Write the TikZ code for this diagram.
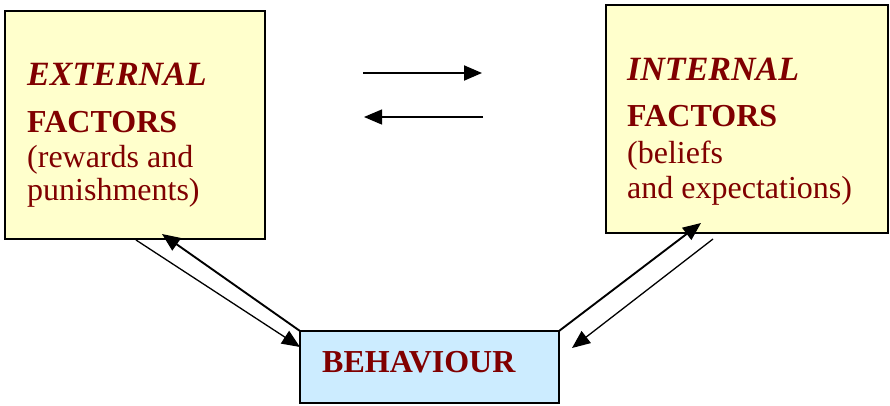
\documentclass[tikz,border=0pt]{standalone}
\usepackage{fontspec}
\setmainfont{Liberation Serif}
\usetikzlibrary{arrows.meta}
\definecolor{txtred}{HTML}{800000}
\definecolor{boxyellow}{HTML}{FFFFCC}
\definecolor{boxblue}{HTML}{CCECFF}
\tikzset{
  factorbox/.style={draw=black, line width=1.4pt, fill=boxyellow},
  behbox/.style={draw=black, line width=1.4pt, fill=boxblue},
  txt/.style={anchor=base west, inner sep=0pt, text=txtred, font=\fontsize{32}{38}\selectfont},
  bigtxt/.style={txt, font=\fontsize{34}{40}\selectfont},
  conn/.style={line width=1.3pt, -{Triangle[length=18pt,width=15pt]}},
  connthick/.style={line width=1.9pt, -{Triangle[length=18pt,width=15pt]}}
}
\begin{document}
\begin{tikzpicture}[x=1pt,y=-1pt]
\useasboundingbox (0,0) rectangle (890,405);
% boxes
\draw[factorbox] (5,11) rectangle (265,239);
\draw[factorbox] (606,5) rectangle (888,233);
\draw[behbox] (300,331) rectangle (559,403);
% named end points
\coordinate (extA) at (136,240);
\coordinate (extTip) at (162,234);
\coordinate (behL) at (300,331);
\coordinate (behLtip) at (300,347);
\coordinate (behR) at (559,331);
\coordinate (behRtip) at (572,348);
\coordinate (intTip) at (701,223);
\coordinate (intB) at (713,239);
\coordinate (t1s) at (363,73);
\coordinate (t1e) at (482,73);
\coordinate (t2s) at (483,117);
\coordinate (t2e) at (364,117);
% texts
\node[bigtxt] (e1) at (27,85) {\textbf{\textit{EXTERNAL}}};
\node[txt] (e2) at (27,132) {\textbf{FACTORS}};
\node[txt] (e3) at (27,167) {(rewards and};
\node[txt] (e4) at (27,200) {punishments)};
\node[bigtxt] (i1) at (627,80) {\textbf{\textit{INTERNAL}}};
\node[txt] (i2) at (627,126) {\textbf{FACTORS}};
\node[txt] (i3) at (627,163) {(beliefs};
\node[txt] (i4) at (627,198) {and expectations)};
\node[txt] (b1) at (322,372) {\textbf{BEHAVIOUR}};
% connectors
\draw[conn] (extA) -- (behLtip);
\draw[connthick] (behL) -- (extTip);
\draw[connthick] (behR) -- (intTip);
\draw[conn] (intB) -- (behRtip);
\draw[connthick] (t1s) -- (t1e);
\draw[conn] (t2s) -- (t2e);
\end{tikzpicture}
\end{document}
